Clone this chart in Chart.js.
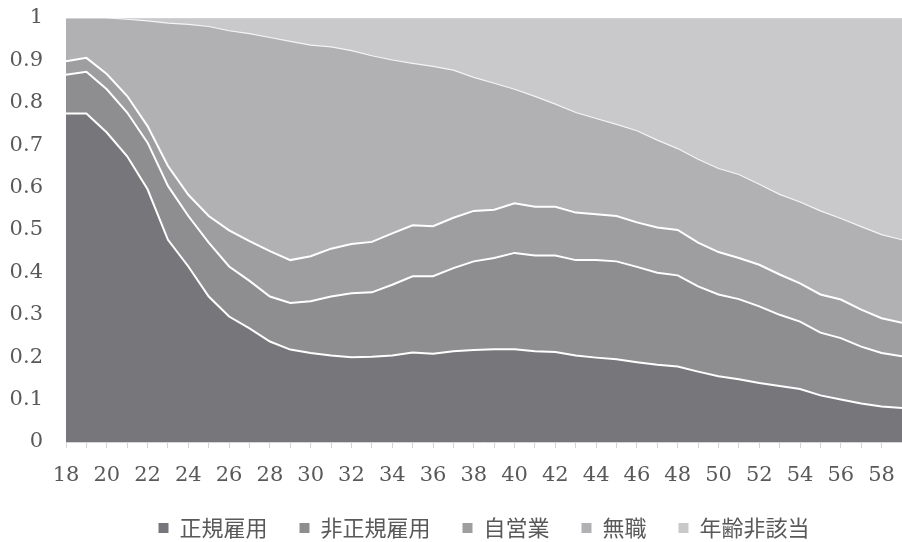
<!DOCTYPE html>
<html lang="ja">
<head>
<meta charset="utf-8">
<title>就業状態の構成（年齢別）</title>
<script src="https://cdn.jsdelivr.net/npm/chart.js@4/dist/chart.umd.min.js"></script>
<style>
    html, body { margin: 0; padding: 0; background: #fff; }
    #chart { display: block; }
</style>
</head>
<body>
<canvas id="chart" width="902" height="542"></canvas>
<script>
const ages = [18, 19, 20, 21, 22, 23, 24, 25, 26, 27, 28, 29, 30, 31, 32, 33, 34, 35, 36, 37, 38,
    39, 40, 41, 42, 43, 44, 45, 46, 47, 48, 49, 50, 51, 52, 53, 54, 55, 56, 57, 58, 59];

const seiki = [.775, .775, .73, .674, .596, .477, .414, .343, .296, .268, .237, .218, .21, .204, .2, .201,
    .204, .211, .208, .214, .217, .219, .219, .214, .212, .204, .199, .195, .188, .182, .178, .166, .155,
    .148, .139, .132, .125, .11, .1, .091, .084, .08];

const hiseiki = [.091, .098, .102, .103, .11, .127, .119, .127, .118, .112, .106, .11, .122, .139, .151,
    .152, .167, .18, .183, .196, .209, .215, .227, .226, .228, .225, .23, .231, .225, .217, .215, .201,
    .193, .189, .181, .168, .159, .148, .145, .134, .126, .122];

const jieigyo = [.032, .033, .036, .039, .039, .047, .05, .063, .085, .094, .107, .101, .106, .113, .116,
    .119, .121, .12, .118, .119, .119, .114, .117, .115, .115, .112, .108, .107, .105, .107, .107, .103,
    .1, .097, .098, .095, .09, .09, .091, .087, .082, .079];

const mushoku = [.102, .094, .132, .181, .248, .337, .402, .447, .471, .489, .504, .516, .498, .476, .456,
    .439, .409, .382, .377, .348, .315, .298, .269, .26, .242, .236, .226, .216, .216, .206, .192, .197,
    .197, .197, .19, .189, .192, .197, .191, .196, .197, .196];

const higaito = [0, 0, 0, .003, .007, .012, .015, .02, .03, .037, .046, .055, .064, .068, .077, .089,
    .099, .107, .114, .123, .14, .154, .168, .185, .203, .223, .237, .251, .266, .288, .308, .333, .355,
    .369, .392, .416, .434, .455, .473, .492, .511, .523];

const yTicks = [0, 0.1, 0.2, 0.3, 0.4, 0.5, 0.6, 0.7, 0.8, 0.9, 1];

const textColor = '#595959';
const tickFont = { family: '"DejaVu Serif", serif', size: 21 };

function layer(label, data, color, line, width, i) {
    return {
        label: label,
        data: data,
        backgroundColor: color,
        borderColor: line,
        borderWidth: width,
        fill: i === 0 ? 'origin' : '-1',
        pointRadius: 0,
        pointHoverRadius: 0,
        tension: 0
    };
}

new Chart(document.getElementById('chart'), {
    type: 'line',
    data: {
        labels: ages,
        datasets: [
            layer('正規雇用', seiki, '#77767a', '#ffffff', 2, 0),
            layer('非正規雇用', hiseiki, '#8e8e91', '#ffffff', 2, 1),
            layer('自営業', jieigyo, '#9e9ea1', '#ffffff', 2, 2),
            layer('無職', mushoku, '#b1b1b4', '#f4f4f4', 1.2, 3),
            layer('年齢非該当', higaito, '#c9c9cb', '#dcdcdc', 1, 4)
        ]
    },
    options: {
        responsive: false,
        animation: false,
        layout: { padding: { top: 18, right: 0, bottom: -7, left: 0 } },
        plugins: {
            tooltip: { enabled: false },
            legend: {
                position: 'bottom',
                fullSize: false,
                labels: {
                    boxWidth: 10,
                    boxHeight: 10,
                    padding: 32,
                    color: textColor,
                    font: { family: '"Noto Sans CJK JP", sans-serif', size: 22 },
                    generateLabels: chart => Chart.defaults.plugins.legend.labels.generateLabels(chart)
                        .map(item => Object.assign(item, { strokeStyle: item.fillStyle, lineWidth: 0 }))
                }
            }
        },
        scales: {
            x: {
                offset: false,
                afterFit: scale => {
                    scale.height = 43;
                    scale.paddingLeft = 0;
                    scale.paddingRight = 0;
                },
                grid: { drawOnChartArea: false, drawTicks: true, tickLength: 6, color: '#d4d4d4' },
                border: { display: true, color: '#d4d4d4' },
                ticks: {
                    autoSkip: false,
                    maxRotation: 0,
                    padding: 15,
                    color: textColor,
                    font: tickFont,
                    callback: (v, i) => (i % 2 === 0 ? String(ages[i]) : '')
                }
            },
            y: {
                stacked: true,
                min: 0,
                max: 1,
                afterFit: scale => {
                    scale.width = 66;
                    scale.paddingTop = 0;
                    scale.paddingBottom = 0;
                },
                afterBuildTicks: scale => { scale.ticks = yTicks.map(v => ({ value: v })); },
                grid: { display: false, drawTicks: false },
                border: { display: false },
                ticks: {
                    padding: 23,
                    color: textColor,
                    font: tickFont,
                    callback: v => String(Number(v.toFixed(1)))
                }
            }
        }
    }
});
</script>
</body>
</html>
